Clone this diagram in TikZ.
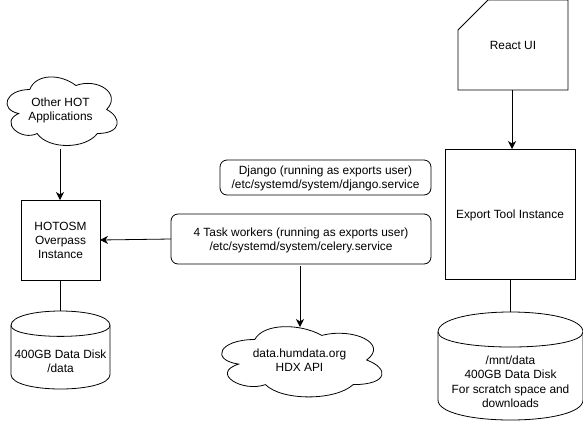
\documentclass[tikz,border=0pt]{standalone}
\usepackage{fontspec}
\setmainfont{Liberation Sans}
\usetikzlibrary{arrows.meta}
\newcommand\ctext[1]{\raisebox{-1.5pt}[\height][\depth]{\begin{tabular}{@{}c@{}}#1\end{tabular}}}
\tikzset{
  x=1pt,y=-1pt,
  outline/.style={draw=black,line width=0.8pt,fill=white},
  lbl/.style={align=center,font=\fontsize{11.9}{14.2}\selectfont,inner sep=0pt},
  solidbox/.style={outline,rectangle,inner sep=0pt,outer sep=0pt,anchor=north west,align=center,font=\fontsize{11.9}{14.2}\selectfont},
  roundbox/.style={solidbox,rounded corners=7pt},
  conn/.style={draw=black,line width=0.8pt},
  arrowconn/.style={conn,-{Stealth[length=8pt,width=8pt,inset=2.5pt]}}
}
% name, x, y, w, h, text
\newcommand\cloudshape[6]{%
  \begin{scope}[shift={(#2,#3)},x=#4pt,y=-#5pt]
    \draw[outline] (0.25,0.25) .. controls (0.05,0.25) and (0,0.5) .. (0.16,0.55)
      .. controls (0,0.66) and (0.18,0.9) .. (0.31,0.8)
      .. controls (0.4,1) and (0.7,1) .. (0.8,0.8)
      .. controls (1,0.8) and (1,0.6) .. (0.875,0.5)
      .. controls (1,0.3) and (0.8,0.1) .. (0.625,0.2)
      .. controls (0.5,0.05) and (0.3,0.05) .. (0.25,0.25) -- cycle;
  \end{scope}
  \node[lbl,minimum width=0.8*#4pt,minimum height=0.8*#5pt] (#1) at ({#2+0.5*#4},{#3+0.5*#5}) {\ctext{#6}};
}
% name, x, y, w, h, dy, text
\newcommand\diskshape[7]{%
  \begin{scope}[shift={(#2,#3)}]
    \draw[outline] (0,#6) .. controls (0,{-#6/3}) and (#4,{-#6/3}) .. (#4,#6)
      -- (#4,{#5-#6}) .. controls (#4,{#5+#6/3}) and (0,{#5+#6/3}) .. (0,{#5-#6}) -- cycle;
    \draw[outline,fill=none] (0,#6) .. controls (0,{2*#6}) and (#4,{2*#6}) .. (#4,#6);
  \end{scope}
  \coordinate (#1top) at ({#2+0.5*#4},#3);
  \node[lbl,minimum width=#4pt] (#1) at ({#2+0.5*#4},{#3+0.5*#5+0.78*#6}) {\ctext{#7}};
}
\begin{document}
\begin{tikzpicture}
\useasboundingbox (0,0) rectangle (583,421);
\fill[white] (0,0) rectangle (583,421);

\cloudshape{cloudhot}{-1}{69.5}{123}{80}{Other HOT\\Applications}
\node[solidbox,minimum width=79pt,minimum height=80pt] (hotosm) at (21,200) {\ctext{HOTOSM\\Overpass\\Instance}};
\diskshape{diskhot}{11}{311}{99}{78}{14.5}{400GB Data Disk\\/data}

\node[roundbox,minimum width=211pt,minimum height=35pt] (django) at (220,160) {\ctext{Django (running as exports user)\\/etc/systemd/system/django.service}};
\node[roundbox,minimum width=260pt,minimum height=50pt] (celery) at (171,214) {\ctext{4 Task workers (running as exports user)\\/etc/systemd/system/celery.service}};
\cloudshape{cloudhdx}{210}{319}{179}{82}{data.humdata.org\\HDX API}

\draw[outline] (458,30) -- (488,0) -- (568,0) -- (568,90) -- (458,90) -- cycle;
\node[lbl,anchor=center] (react) at (513,45) {\ctext{React UI}};
\coordinate (reactbottom) at (512,90);
\node[solidbox,minimum width=130pt,minimum height=130pt] (export) at (445,149) {\ctext{Export Tool Instance}};
\diskshape{diskexport}{438}{312}{145}{108}{20}{/mnt/data\\400GB Data Disk\\For scratch space and\\downloads}

\coordinate (cloudhotout) at (60,149);
\coordinate (celeryout) at (300,266);
\coordinate (hdxin) at (300,327);
\draw[arrowconn] (cloudhotout) -- (hotosm.north -| cloudhotout);
\draw[conn] (hotosm.south -| cloudhotout) -- (diskhottop -| cloudhotout);
\draw[arrowconn] (celery.west) -- (hotosm.east);
\draw[arrowconn] (celeryout) -- (hdxin);
\draw[arrowconn] (reactbottom) -- (export.north -| reactbottom);
\draw[conn] (export.south) -- (diskexporttop -| export.south);
\end{tikzpicture}
\end{document}
